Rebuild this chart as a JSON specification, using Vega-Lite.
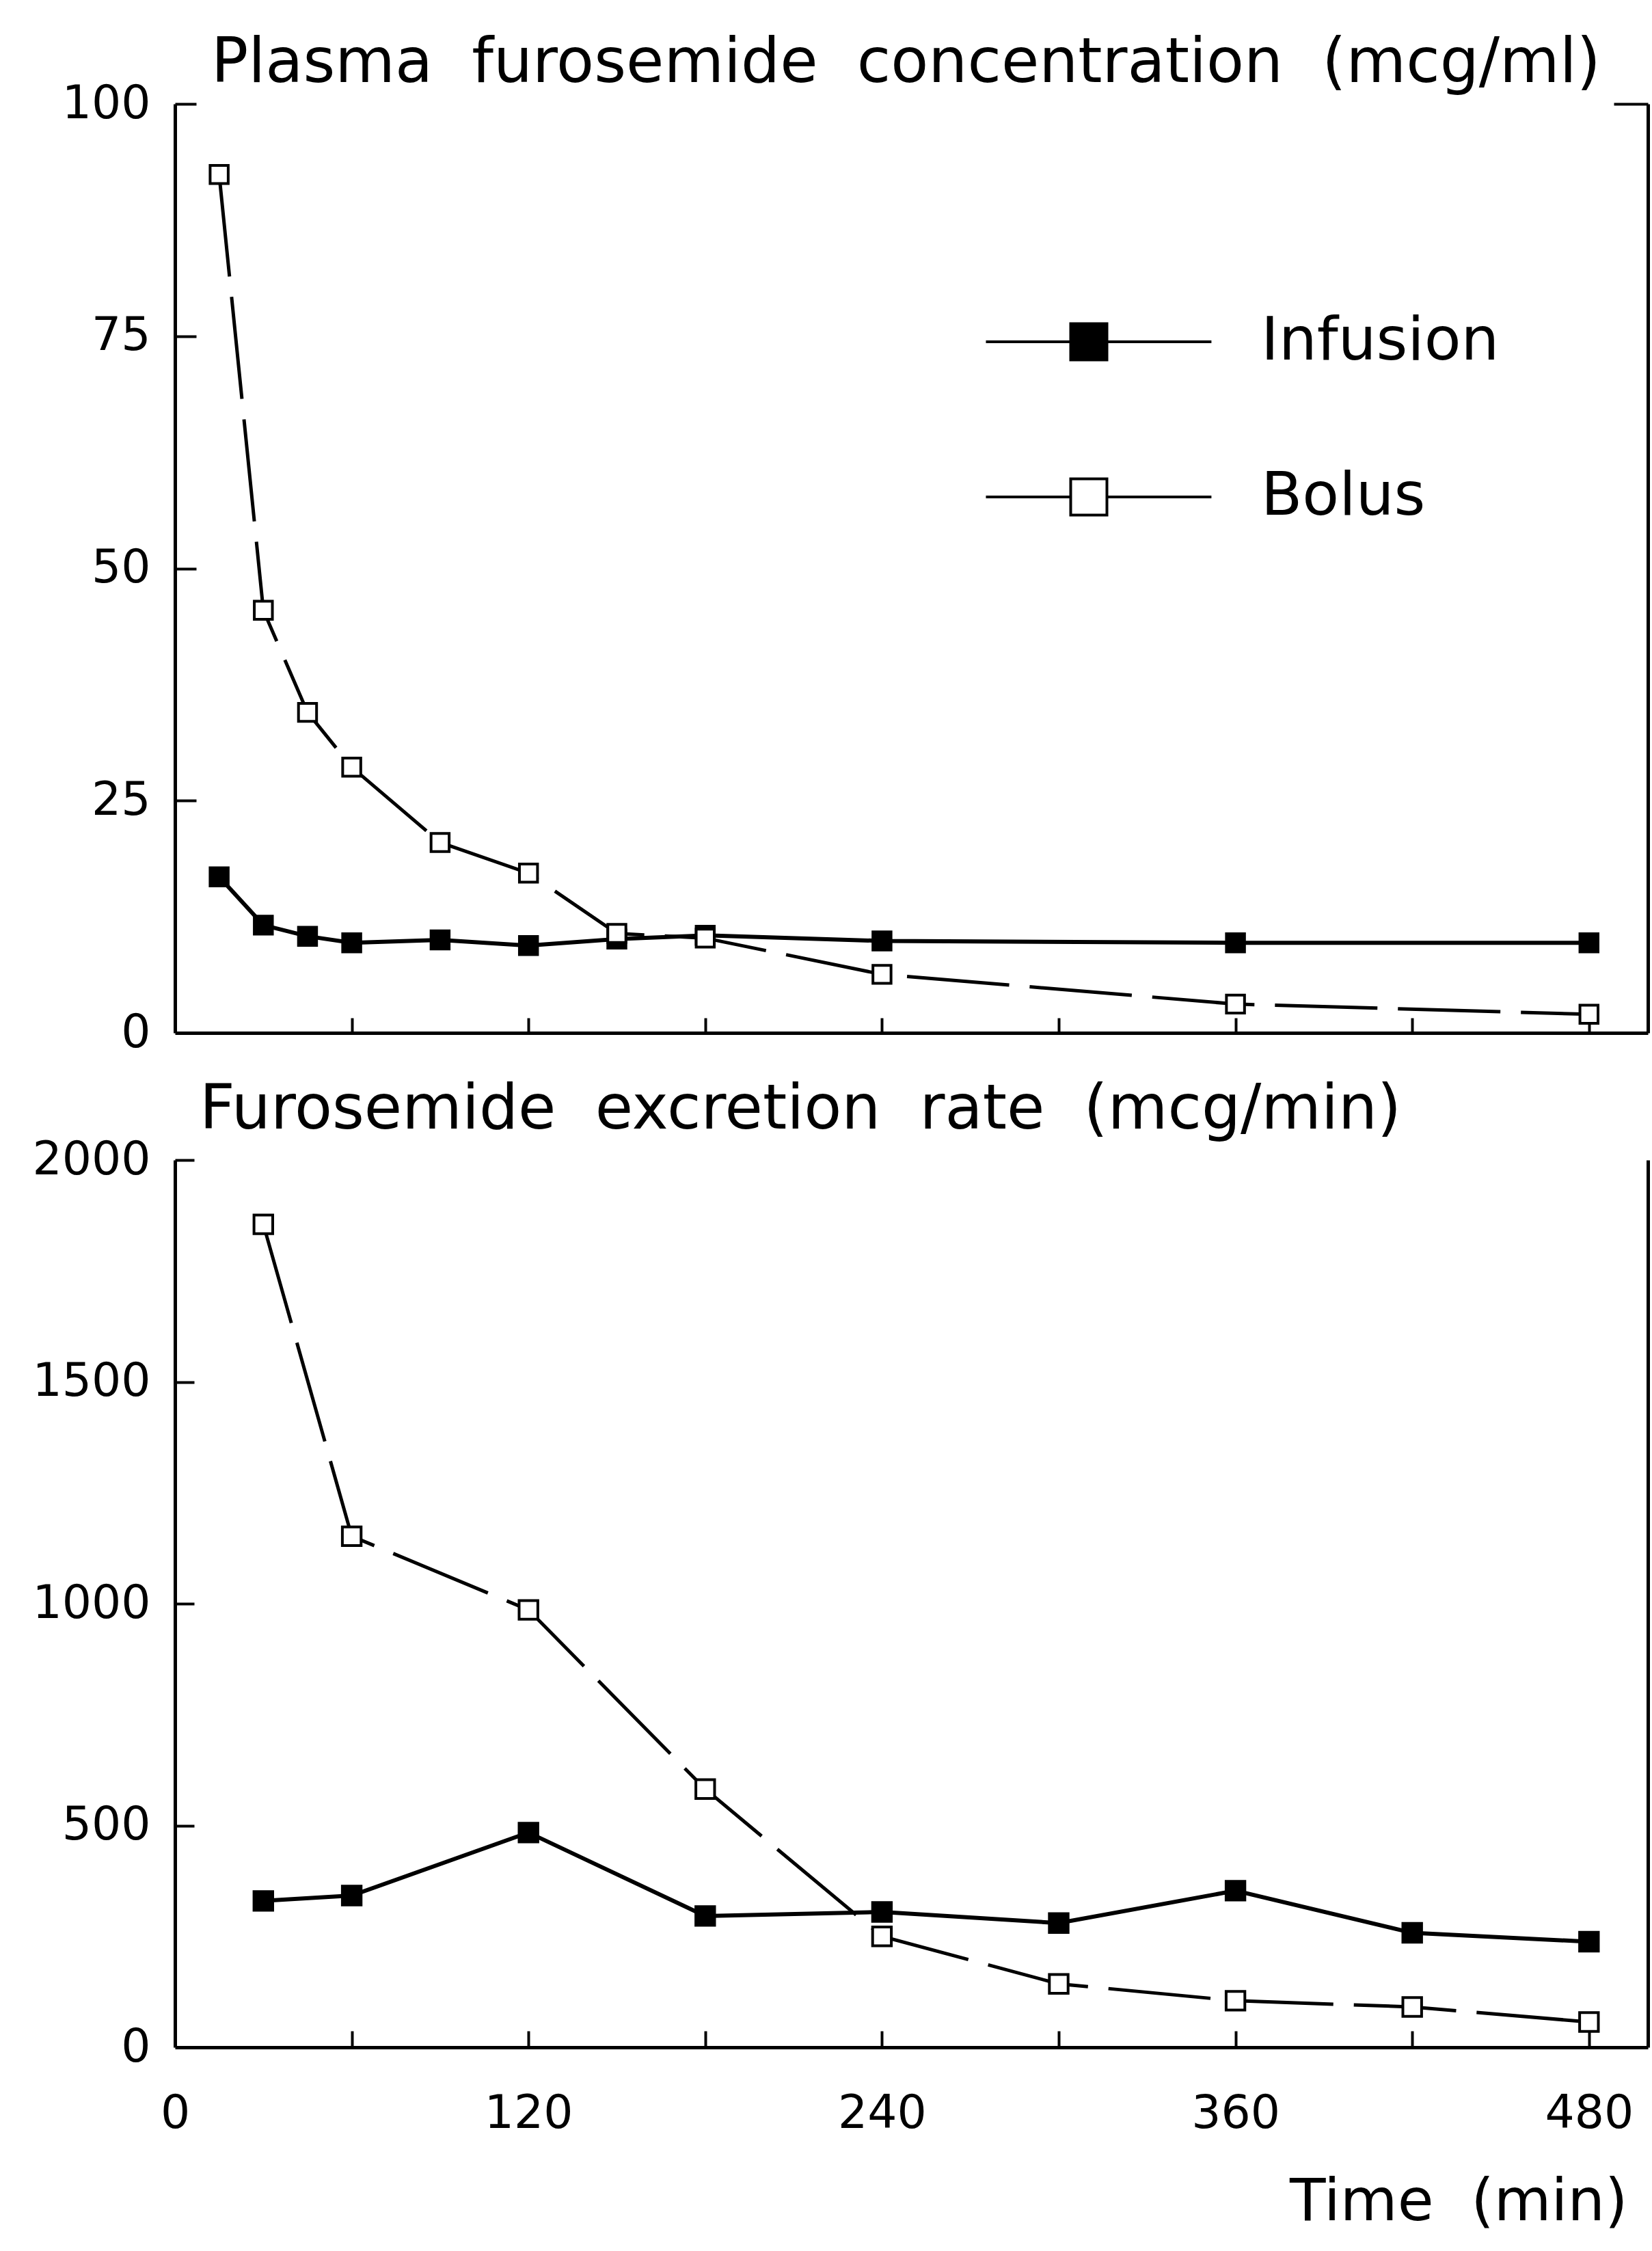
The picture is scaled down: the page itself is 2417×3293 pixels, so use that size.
{
  "$schema": "https://vega.github.io/schema/vega-lite/v6.json",
  "background": "white",
  "padding": {"left": 46, "top": 48, "right": 2, "bottom": 16},
  "config": {
    "view": {"stroke": null},
    "font": "DejaVu Sans",
    "axis": {"grid": false, "domainColor": "black", "domainWidth": 5, "tickColor": "black", "tickWidth": 4, "labelColor": "black", "labelFont": "DejaVu Sans", "labelFontSize": 68, "labelLimit": 400, "labelFlush": false, "title": null}
  },
  "datasets": {
    "conc": [
      {"series": "Infusion", "t": 15, "v": 16.8},
      {"series": "Infusion", "t": 30, "v": 11.6},
      {"series": "Infusion", "t": 45, "v": 10.4},
      {"series": "Infusion", "t": 60, "v": 9.7},
      {"series": "Infusion", "t": 90, "v": 10.0},
      {"series": "Infusion", "t": 120, "v": 9.4},
      {"series": "Infusion", "t": 150, "v": 10.1},
      {"series": "Infusion", "t": 180, "v": 10.5},
      {"series": "Infusion", "t": 240, "v": 9.9},
      {"series": "Infusion", "t": 360, "v": 9.7},
      {"series": "Infusion", "t": 480, "v": 9.7},
      {"series": "Bolus", "t": 15, "v": 92.4},
      {"series": "Bolus", "t": 30, "v": 45.5},
      {"series": "Bolus", "t": 45, "v": 34.5},
      {"series": "Bolus", "t": 60, "v": 28.6},
      {"series": "Bolus", "t": 90, "v": 20.5},
      {"series": "Bolus", "t": 120, "v": 17.2},
      {"series": "Bolus", "t": 150, "v": 10.7},
      {"series": "Bolus", "t": 180, "v": 10.2},
      {"series": "Bolus", "t": 240, "v": 6.3},
      {"series": "Bolus", "t": 360, "v": 3.1},
      {"series": "Bolus", "t": 480, "v": 2.0}
    ],
    "exc": [
      {"series": "Infusion", "t": 30, "v": 330},
      {"series": "Infusion", "t": 60, "v": 342},
      {"series": "Infusion", "t": 120, "v": 484},
      {"series": "Infusion", "t": 180, "v": 296},
      {"series": "Infusion", "t": 240, "v": 305},
      {"series": "Infusion", "t": 300, "v": 280},
      {"series": "Infusion", "t": 360, "v": 353},
      {"series": "Infusion", "t": 420, "v": 258},
      {"series": "Infusion", "t": 480, "v": 238},
      {"series": "Bolus", "t": 30, "v": 1855},
      {"series": "Bolus", "t": 60, "v": 1152},
      {"series": "Bolus", "t": 120, "v": 986},
      {"series": "Bolus", "t": 180, "v": 582},
      {"series": "Bolus", "t": 240, "v": 250},
      {"series": "Bolus", "t": 300, "v": 143},
      {"series": "Bolus", "t": 360, "v": 105},
      {"series": "Bolus", "t": 420, "v": 91},
      {"series": "Bolus", "t": 480, "v": 57}
    ]
  },
  "spacing": 34,
  "resolve": {"scale": {"fill": "independent", "y": "independent", "x": "independent"}, "legend": {"fill": "independent"}},
  "vconcat": [
    {
      "width": 2155,
      "height": 1359,
      "title": {"text": "Plasma\u00a0\u00a0furosemide\u00a0\u00a0concentration\u00a0\u00a0(mcg/ml)", "anchor": "start", "frame": "group", "dx": 53, "offset": -92, "baseline": "alphabetic", "fontSize": 90, "fontWeight": "normal", "color": "black", "font": "DejaVu Sans"},
      "data": {"name": "conc"},
      "resolve": {"axis": {"x": "independent", "y": "independent"}},
      "layer": [
        {
          "transform": [{"filter": "datum.series === 'Infusion'"}],
          "mark": {"type": "line", "color": "black", "strokeWidth": 6},
          "encoding": {
            "x": {"field": "t", "type": "quantitative", "scale": {"domain": [0, 500], "nice": false, "zero": false}, "axis": {"title": null, "orient": "bottom", "labels": false, "ticks": false, "tickSize": 0, "domain": true, "minExtent": 0, "maxExtent": 3}},
            "y": {"field": "v", "type": "quantitative", "scale": {"domain": [0, 100], "nice": false}, "axis": {"title": null, "orient": "left", "values": [0, 25, 50, 75, 100], "format": "d", "ticks": false, "tickSize": 0, "labelPadding": 36}}
          }
        },
        {
          "transform": [{"filter": "datum.series === 'Bolus'"}],
          "mark": {"type": "line", "color": "black", "strokeWidth": 5, "strokeDash": [150, 30]},
          "encoding": {
            "x": {"field": "t", "type": "quantitative", "axis": {"title": null, "orient": "top", "offset": -1359, "values": [60, 120, 180, 240, 300, 360, 420, 480], "labels": false, "domain": false, "tickSize": 22, "minExtent": 0}},
            "y": {"field": "v", "type": "quantitative", "axis": {"title": null, "orient": "right", "offset": -2155, "values": [25, 50, 75, 100], "labels": false, "domain": false, "tickSize": 31, "minExtent": 0}}
          }
        },
        {
          "mark": {"type": "point", "shape": "square", "filled": true, "stroke": "black", "strokeWidth": 4, "size": 700, "opacity": 1},
          "encoding": {
            "x": {"field": "t", "type": "quantitative", "axis": null},
            "y": {"field": "v", "type": "quantitative", "axis": {"title": null, "orient": "left", "offset": -2155, "values": [100], "labels": false, "domain": true, "tickSize": 50, "minExtent": 0}},
            "fill": {"field": "series", "type": "nominal", "scale": {"domain": ["Infusion", "Bolus"], "range": ["black", "white"]},
              "legend": {"orient": "none", "legendX": 1293, "legendY": 304, "title": null, "direction": "vertical", "symbolType": "M-5.68,0H-1M1,0H6.77M-1,-1H1V1H-1Z", "symbolSize": 2809, "symbolStrokeColor": "black", "symbolStrokeWidth": 4, "symbolOpacity": 1, "labelFontSize": 88, "labelFont": "DejaVu Sans", "labelColor": "black", "labelLimit": 1000, "labelOffset": 208, "rowPadding": 139, "padding": 0}}
          }
        }
      ]
    },
    {
      "width": 2155,
      "height": 1298,
      "title": {"text": "Furosemide\u00a0\u00a0excretion\u00a0\u00a0rate\u00a0\u00a0(mcg/min)", "anchor": "start", "frame": "group", "dx": 36, "offset": -78, "baseline": "alphabetic", "fontSize": 90, "fontWeight": "normal", "color": "black", "font": "DejaVu Sans"},
      "data": {"name": "exc"},
      "resolve": {"axis": {"x": "independent", "y": "independent"}},
      "layer": [
        {
          "transform": [{"filter": "datum.series === 'Infusion'"}],
          "mark": {"type": "line", "color": "black", "strokeWidth": 6},
          "encoding": {
            "x": {"field": "t", "type": "quantitative", "scale": {"domain": [0, 500], "nice": false, "zero": false},
              "axis": {"title": "Time\u00a0\u00a0(min)", "orient": "bottom", "values": [0, 120, 240, 360, 480], "format": "d", "ticks": false, "tickSize": 0, "labelPadding": 63, "titleFontSize": 86, "titleFontWeight": "normal", "titleColor": "black", "titleFont": "DejaVu Sans", "titleAlign": "right", "titleAnchor": "end", "titleX": 2125, "titleY": 252, "titleBaseline": "alphabetic"}},
            "y": {"field": "v", "type": "quantitative", "scale": {"domain": [0, 2000], "nice": false}, "axis": {"title": null, "orient": "left", "values": [0, 500, 1000, 1500, 2000], "format": "d", "ticks": false, "tickSize": 0, "labelPadding": 36}}
          }
        },
        {
          "transform": [{"filter": "datum.series === 'Bolus'"}],
          "mark": {"type": "line", "color": "black", "strokeWidth": 5, "strokeDash": [150, 30]},
          "encoding": {
            "x": {"field": "t", "type": "quantitative", "axis": {"title": null, "orient": "top", "offset": -1298, "values": [60, 120, 180, 240, 300, 360, 420, 480], "labels": false, "domain": false, "tickSize": 24, "minExtent": 0}},
            "y": {"field": "v", "type": "quantitative", "axis": {"title": null, "orient": "right", "offset": -2155, "values": [500, 1000, 1500, 2000], "labels": false, "domain": false, "tickSize": 28, "minExtent": 0}}
          }
        },
        {
          "mark": {"type": "point", "shape": "square", "filled": true, "stroke": "black", "strokeWidth": 4, "size": 750, "opacity": 1},
          "encoding": {
            "x": {"field": "t", "type": "quantitative", "axis": null},
            "y": {"field": "v", "type": "quantitative", "axis": {"title": null, "orient": "left", "offset": -2155, "labels": false, "ticks": false, "domain": true, "minExtent": 0}},
            "fill": {"field": "series", "type": "nominal", "scale": {"domain": ["Infusion", "Bolus"], "range": ["black", "white"]}, "legend": null}
          }
        }
      ]
    }
  ]
}
